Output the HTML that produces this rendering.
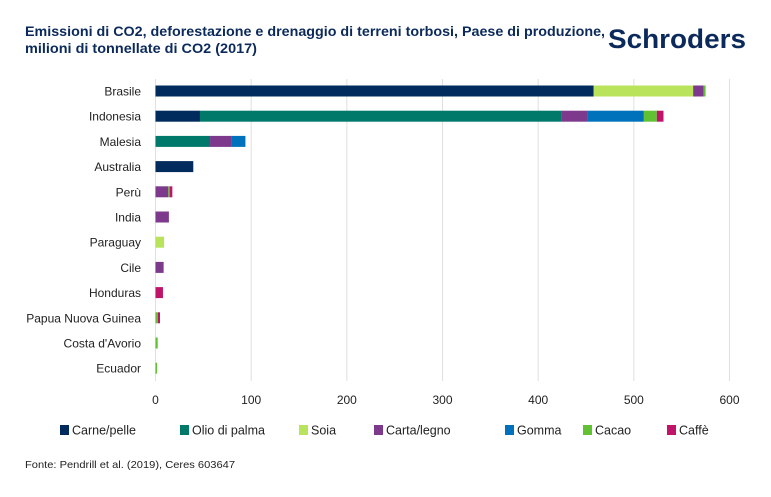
<!DOCTYPE html>
<html><head><meta charset="utf-8"><style>
body{margin:0;background:#fff;width:771px;height:492px;overflow:hidden;font-family:"Liberation Sans",sans-serif;}
svg text{font-family:"Liberation Sans",sans-serif;}
</style></head><body>
<svg id="chart" width="771" height="492" xmlns="http://www.w3.org/2000/svg">
<text x="25" y="36" font-size="13.5" font-weight="bold" fill="#0b2a5b" textLength="580" lengthAdjust="spacingAndGlyphs">Emissioni di CO2, deforestazione e drenaggio di terreni torbosi, Paese di produzione,</text>
<text x="25" y="53" font-size="13.5" font-weight="bold" fill="#0b2a5b" textLength="232" lengthAdjust="spacingAndGlyphs">milioni di tonnellate di CO2 (2017)</text>
<text x="608" y="48" font-size="27" font-weight="bold" fill="#0b2a5b" textLength="138" lengthAdjust="spacingAndGlyphs">Schroders</text>
<g id="grid"></g><g id="bars"></g><g id="ylabels"></g><g id="xlabels"></g><g id="legend"></g>
<text x="25" y="468" font-size="10.5" fill="#222" textLength="210" lengthAdjust="spacingAndGlyphs">Fonte: Pendrill et al. (2019), Ceres 603647</text>
</svg>
<script>
const categories=["Brasile","Indonesia","Malesia","Australia","Perù","India","Paraguay","Cile","Honduras","Papua Nuova Guinea","Costa d'Avorio","Ecuador"];
const seriesNames=["Carne/pelle","Olio di palma","Soia","Carta/legno","Gomma","Cacao","Caffè"];
const carne=[458,46.5,0,39.5,0,0,0,0,0,0,0,0];
const olio=[0,378,57,0,0,0,0,0,0,0,0,0];
const soia=[104,0,0,0,0,0,9,0,0,0,0,0];
const carta=[11,27.5,22,0,13.4,14,0,8.5,0,0,0,0];
const gomma=[0,58.5,15,0,0,0,0,0,0,0,0,0];
const cacao=[2,13.5,0,0,1.4,0,0,0,0,2.6,2.3,1.6];
const caffe=[0,7,0,0,2.8,0,0,0,7.8,2.1,0,0];
const xTicks=[0,100,200,300,400,500,600];
const colors=["#002b5c","#00796b","#b9e35a","#7d3a8c","#0072bb","#60c233","#c0146b"];
const series=[carne,olio,soia,carta,gomma,cacao,caffe];
const NS="http://www.w3.org/2000/svg";
const x=v=>155.5+v*(574/600);
const y=i=>91+i*25.2;
function mk(tag,attrs,parent){const e=document.createElementNS(NS,tag);for(const k in attrs)e.setAttribute(k,attrs[k]);parent.appendChild(e);return e;}
const grid=document.getElementById('grid'),bars=document.getElementById('bars'),yl=document.getElementById('ylabels'),xl=document.getElementById('xlabels'),lg=document.getElementById('legend');
xTicks.forEach(t=>{
 const l=mk('line',{x1:x(t),x2:x(t),y1:79,y2:381,stroke:'#e0e0e0','stroke-width':1},grid);
 
 
 const tx=mk('text',{x:x(t),y:404,'font-size':12,'text-anchor':'middle',fill:'#222'},xl);
 tx.textContent=t;
 
 
});
categories.forEach((c,i)=>{
 const tx=mk('text',{x:141,y:y(i)+4.5,'font-size':12,'text-anchor':'end',fill:'#222'},yl);
 tx.textContent=c;
 
 
 let acc=0;
 series.forEach((s,k)=>{
  const v=s[i]; if(!v)return;
  const r=mk('rect',{x:x(acc),y:y(i)-5.5,width:x(acc+v)-x(acc),height:11,fill:colors[k]},bars);
  
  
  acc+=v;
 });
});
const lx=[60,180,299,374,505,583,667];
seriesNames.forEach((n,k)=>{
 const r=mk('rect',{x:lx[k],y:425,width:9,height:10,fill:colors[k]},lg);
 
 
 const t=mk('text',{x:lx[k]+12,y:434.5,'font-size':12.5,fill:'#222'},lg);
 t.textContent=n;
 
 
});
</script>
</body></html>
